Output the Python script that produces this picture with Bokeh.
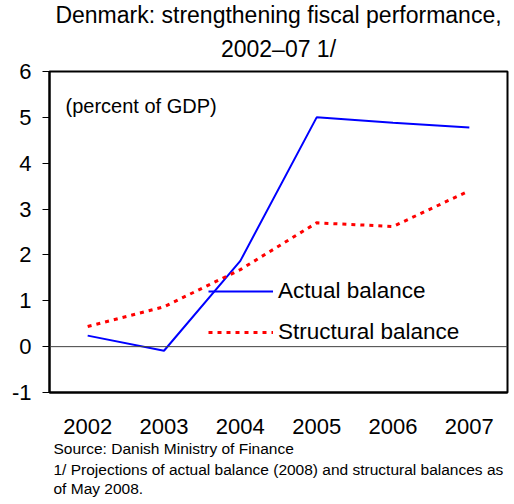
from bokeh.plotting import figure
from bokeh.models import Range1d, FixedTicker, Span, Label, Legend, LegendItem, ColumnDataSource, Title
from bokeh.embed import file_html
from bokeh.resources import INLINE

years = [2002, 2003, 2004, 2005, 2006, 2007]
actual = [0.24, -0.09, 1.87, 5.0, 4.88, 4.78]
structural = [0.44, 0.87, 1.68, 2.7, 2.62, 3.4]
y_ticks = [-1, 0, 1, 2, 3, 4, 5, 6]
title_lines = ["Denmark: strengthening fiscal performance,", "2002\u201307 1/"]
unit_note = "(percent of GDP)"
notes = ["Source: Danish Ministry of Finance",
         "1/ Projections of actual balance (2008) and structural balances as",
         "of May 2008."]

FONT = "Liberation Sans"

src = ColumnDataSource(dict(year=years, actual=actual, structural=structural))

p = figure(width=510, height=504, x_range=Range1d(2001.5, 2007.5), y_range=Range1d(-1, 6),
           output_backend="svg", toolbar_location=None, title=None,
           min_border_left=49, min_border_right=3, min_border_top=71, min_border_bottom=112)
p.background_fill_color = "white"
p.border_fill_color = "white"
p.outline_line_color = "black"
p.outline_line_width = 2
p.xgrid.visible = False
p.ygrid.visible = False

# axes
p.xaxis.ticker = FixedTicker(ticks=years)
p.xaxis.major_label_overrides = {y: str(y) for y in years}
p.xaxis.major_tick_line_color = None
p.xaxis.minor_tick_line_color = None
p.xaxis.axis_line_color = "black"
p.xaxis.axis_line_width = 2
p.xaxis.major_label_text_font = FONT
p.xaxis.major_label_text_font_size = "22px"
p.xaxis.major_label_text_color = "black"
p.xaxis.major_label_standoff = 20

p.yaxis.ticker = FixedTicker(ticks=y_ticks)
p.yaxis.major_label_overrides = {t: str(t) for t in y_ticks}
p.yaxis.major_tick_in = 0
p.yaxis.major_tick_out = 7
p.yaxis.major_tick_line_color = "black"
p.yaxis.major_tick_line_width = 1
p.yaxis.minor_tick_line_color = None
p.yaxis.axis_line_color = "black"
p.yaxis.axis_line_width = 2
p.yaxis.major_label_text_font = FONT
p.yaxis.major_label_text_font_size = "22px"
p.yaxis.major_label_text_color = "black"
p.yaxis.major_label_standoff = 11

p.add_layout(Span(location=0, dimension="width", line_color="#404040", line_width=1))

r_act = p.line("year", "actual", source=src, line_color="#0000FF", line_width=2)
r_str = p.line("year", "structural", source=src, line_color="#FF0000", line_width=3, line_dash="4 5")

legend = Legend(items=[LegendItem(label="Actual balance", renderers=[r_act]),
                       LegendItem(label="Structural balance", renderers=[r_str])],
                location=(159, 47), glyph_width=65, glyph_height=20, label_height=20,
                spacing=15, padding=0, margin=0, label_standoff=5,
                border_line_color=None, background_fill_alpha=0,
                label_text_font=FONT, label_text_font_size="22.5px", label_text_color="black")
p.add_layout(legend)

# two title lines above (first added sits nearest the frame)
p.add_layout(Title(text=title_lines[1], align="center", standoff=20,
                   text_font=FONT, text_font_size="23px", text_font_style="normal",
                   text_color="black"), "above")
p.add_layout(Title(text=title_lines[0], align="center", standoff=-9,
                   text_font=FONT, text_font_size="23px", text_font_style="normal",
                   text_color="black"), "above")

# footnotes below
for i, n in enumerate(notes):
    p.add_layout(Title(text=n, align="left", offset=4, standoff=3 if i == 0 else 0,
                       text_font=FONT, text_font_size="15.5px", text_font_style="normal",
                       text_color="black"), "below")

# unit note inside the frame
def dx(px):
    return 2001.5 + (px - 49) / (458 / 6.0)

def dy(py):
    return -1 + (392 - py) / (321 / 7.0)

p.add_layout(Label(x=dx(65), y=dy(105), text=unit_note, text_font=FONT, text_font_size="20px",
                   text_align="left", text_baseline="alphabetic", text_color="black"))

open("out.html", "w").write(file_html(p, INLINE))
